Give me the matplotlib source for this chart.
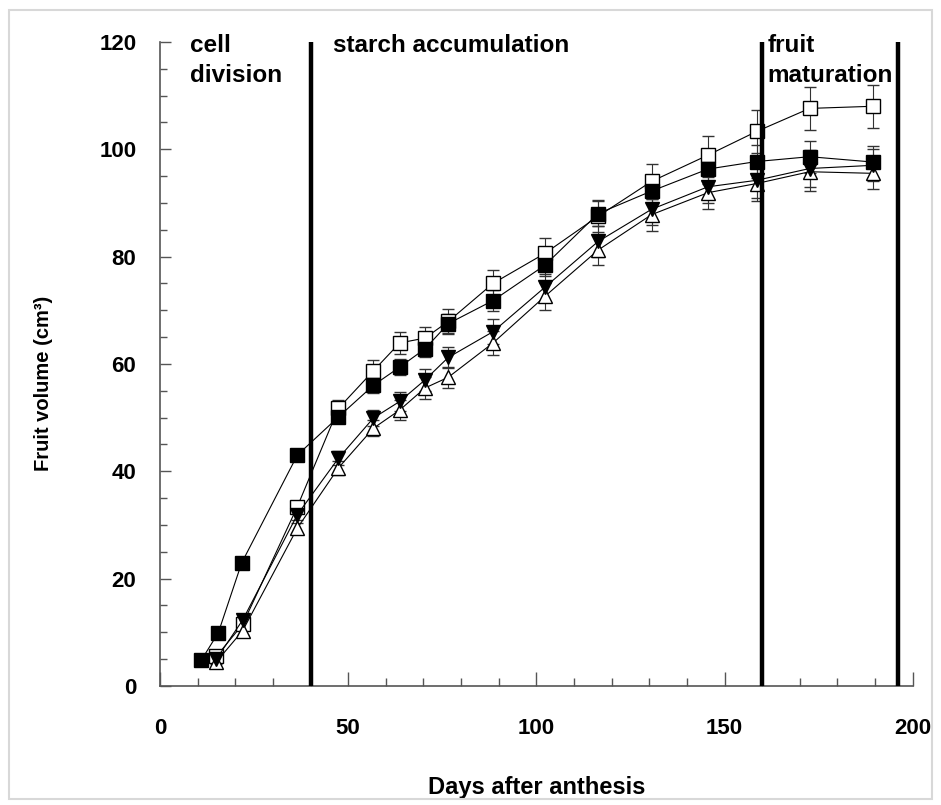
import matplotlib
matplotlib.use("Agg")
import matplotlib.pyplot as plt
from matplotlib.patches import Rectangle
from matplotlib.ticker import MultipleLocator

plt.rcParams['font.family'] = ['Liberation Sans', 'DejaVu Sans']
plt.rcParams['font.weight'] = 'bold'

# sampling days (filled squares start earlier)
days_filled_sq = [11, 15.5, 21.7, 36.5, 47.4, 56.7, 63.7, 70.4, 76.6, 88.5,
                  102.3, 116.4, 130.6, 145.6, 158.5, 172.6, 189.5]
days = [15, 22, 36.5, 47.4, 56.7, 63.7, 70.4, 76.6, 88.5,
        102.3, 116.4, 130.6, 145.6, 158.5, 172.6, 189.5]

vol_filled_sq = [4.8, 9.9, 22.9, 43.0, 50.1, 56.0, 59.4, 62.8, 67.5, 71.8,
                 78.4, 88.0, 92.2, 96.3, 97.7, 98.6, 97.6]
err_filled_sq = [0.5, 0.7, 0.9, 1.0, 1.2, 1.5, 1.5, 1.5, 1.8, 2.0,
                 2.0, 2.3, 2.5, 2.8, 3.0, 3.0, 3.0]

vol_open_sq = [5.5, 11.5, 33.4, 51.7, 58.7, 63.9, 64.8, 67.9, 75.0, 80.6,
               87.5, 94.0, 98.9, 103.3, 107.6, 108.0]
err_open_sq = [0.5, 0.8, 1.0, 1.5, 2.0, 2.0, 2.0, 2.3, 2.5, 2.8,
               3.0, 3.3, 3.5, 4.0, 4.0, 4.0]

vol_down_tri = [5.0, 12.3, 31.9, 42.4, 49.9, 53.0, 57.0, 61.2, 66.0, 74.3,
                82.8, 88.8, 93.0, 94.2, 96.4, 97.0]
err_down_tri = [0.5, 0.8, 1.0, 1.3, 1.5, 1.8, 2.0, 2.0, 2.3, 2.5,
                2.8, 3.0, 3.0, 3.3, 3.5, 3.0]

vol_up_tri = [4.5, 10.3, 29.4, 40.6, 48.0, 51.4, 55.5, 57.5, 63.9, 72.6,
              81.2, 87.8, 91.9, 93.6, 95.8, 95.5]
err_up_tri = [0.5, 0.8, 1.0, 1.3, 1.5, 1.8, 2.0, 2.0, 2.3, 2.5,
              2.8, 3.0, 3.0, 3.3, 3.5, 3.0]

phase_bounds = [40, 160, 196]

fig = plt.figure(figsize=(9.41, 8.05), dpi=100)
ax = fig.add_axes([0.170, 0.148, 0.800, 0.800])

series = [
    (days, vol_open_sq, err_open_sq, 's', 'white', 9.5),
    (days_filled_sq, vol_filled_sq, err_filled_sq, 's', 'black', 9.5),
    (days, vol_up_tri, err_up_tri, '^', 'white', 10),
    (days, vol_down_tri, err_down_tri, 'v', 'black', 10),
]
for x, y, e, m, fc, ms in series:
    ax.errorbar(x, y, yerr=e, fmt='-', marker=m, color='black', mfc=fc,
                mec='black', mew=1.0, ms=ms, lw=0.8, elinewidth=0.8,
                ecolor='#333333', capsize=4, capthick=0.8)

for b in phase_bounds:
    ax.axvline(b, color='black', lw=3.2, zorder=5)

ax.set_xlim(0, 200)
ax.set_ylim(0, 120)
for side in ('top', 'right'):
    ax.spines[side].set_visible(False)
for side in ('left', 'bottom'):
    ax.spines[side].set_color('#555555')
    ax.spines[side].set_linewidth(1.2)

ax.xaxis.set_major_locator(MultipleLocator(50))
ax.xaxis.set_minor_locator(MultipleLocator(10))
ax.yaxis.set_major_locator(MultipleLocator(20))
ax.yaxis.set_minor_locator(MultipleLocator(5))
ax.tick_params(axis='x', which='major', direction='in', length=10, width=1,
               color='#555555', pad=23, labelsize=16)
ax.tick_params(axis='x', which='minor', direction='in', length=6, width=1,
               color='#555555')
ax.tick_params(axis='y', which='major', direction='in', length=8, width=1,
               color='#555555', pad=17, labelsize=16)
ax.tick_params(axis='y', which='minor', direction='in', length=5, width=1,
               color='#555555')

ax.set_xlabel('Days after anthesis', fontsize=17, fontweight='bold', labelpad=27)
ax.set_ylabel('Fruit volume (cm³)', fontsize=14.5, fontweight='bold')
ax.yaxis.set_label_coords(-0.142, 0.47)

# growth phase labels
ax.text(8, 121.5, 'cell\ndivision', fontsize=17.5, fontweight='bold',
        va='top', ha='left', linespacing=1.4, clip_on=False)
ax.text(46, 121.5, 'starch accumulation', fontsize=17.5, fontweight='bold',
        va='top', ha='left', clip_on=False)
ax.text(161.5, 121.5, 'fruit\nmaturation', fontsize=17.5, fontweight='bold',
        va='top', ha='left', linespacing=1.4, clip_on=False)

fig.patches.append(Rectangle((9 / 941, 6 / 805), 923 / 941, 789 / 805,
                             transform=fig.transFigure, fill=False,
                             edgecolor='#d8d8d8', lw=1.5))

fig.savefig('out.png', dpi=100)
